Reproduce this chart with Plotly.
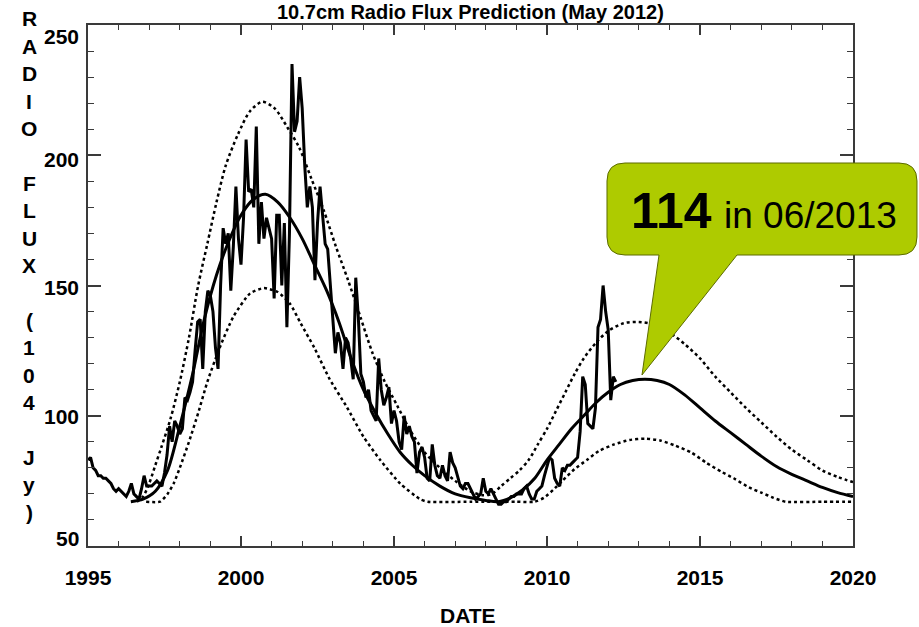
import plotly.graph_objects as go

# ---------------- data ----------------
obs_start_year = 1995
flux_1995 = [83, 84, 80, 79, 77, 77, 76, 76, 75, 74, 72, 71]
flux_1996 = [72, 71, 70, 69, 71, 74, 70, 69, 68, 72, 77, 73]
flux_1997 = [73, 73, 74, 75, 74, 73, 78, 85, 96, 90, 98, 96]
flux_1998 = [93, 95, 107, 106, 109, 113, 125, 136, 137, 118, 140, 148]
flux_1999 = [146, 140, 126, 118, 150, 172, 166, 170, 148, 165, 188, 168]
flux_2000 = [158, 176, 206, 186, 187, 180, 211, 166, 182, 168, 176, 172]
flux_2001 = [168, 145, 177, 177, 150, 174, 134, 170, 235, 209, 213, 230]
flux_2002 = [218, 196, 180, 188, 180, 152, 174, 188, 176, 166, 164, 150]
flux_2003 = [140, 124, 132, 128, 118, 130, 128, 122, 114, 153, 138, 116]
flux_2004 = [113, 107, 110, 102, 100, 98, 122, 110, 104, 107, 111, 97]
flux_2005 = [102, 98, 90, 87, 100, 93, 96, 92, 90, 78, 86, 88]
flux_2006 = [84, 76, 75, 89, 81, 77, 76, 81, 77, 75, 86, 82]
flux_2007 = [80, 76, 73, 72, 74, 74, 72, 70, 68, 69, 70, 76]
flux_2008 = [71, 70, 72, 70, 68, 66, 66, 67, 67, 68, 69, 69]
flux_2009 = [70, 70, 70, 72, 73, 70, 68, 68, 71, 72, 73, 77]
flux_2010 = [81, 84, 83, 76, 74, 73, 80, 79, 81, 81, 82, 83]
flux_2011 = [84, 94, 115, 112, 97, 96, 95, 103, 134, 137, 150, 140]
flux_2012 = [133, 106, 115, 113]

pred_year = [1996.4, 1996.8, 1997.2, 1997.6, 1998.0, 1998.4, 1998.8, 1999.2, 1999.6,
             2000.0, 2000.4, 2000.8, 2001.2, 2001.6, 2002.0, 2002.4, 2002.8, 2003.2,
             2003.6, 2004.0, 2004.4, 2004.8, 2005.2, 2005.6, 2006.0, 2006.5, 2007.0,
             2007.5, 2008.0, 2008.4, 2008.8, 2009.2, 2009.6, 2010.0, 2010.4, 2010.8,
             2011.2, 2011.6, 2012.0, 2012.4, 2012.8, 2013.2, 2013.6, 2014.0, 2014.5,
             2015.0, 2015.5, 2016.0, 2016.5, 2017.0, 2017.5, 2018.0, 2018.5, 2019.0,
             2019.5, 2020.0]
pred_flux = [67, 68, 71, 79, 96, 115, 137, 154, 167, 177, 183, 185, 182, 176, 168, 158,
             148, 136, 122, 110, 101, 93, 86, 81, 77, 73, 70, 68.5, 67.5, 67, 68.5, 71.5,
             76, 83, 89, 95, 100, 105, 109, 112, 113.5, 114, 113.5, 112, 108, 103, 98,
             93.5, 89, 84.5, 80.5, 77.5, 75, 72.5, 70.5, 69]

upper_year = [1996.6, 1996.8, 1997.0, 1997.2, 1997.4, 1997.7, 1998.0, 1998.3, 1998.6,
              1998.9, 1999.2, 1999.5, 1999.9, 2000.3, 2000.7, 2001.1, 2001.5, 2001.9,
              2002.3, 2002.7, 2003.1, 2003.5, 2003.9, 2004.3, 2004.7, 2005.1, 2005.5,
              2006.0, 2006.5, 2007.0, 2007.5, 2007.9, 2008.2, 2008.5, 2008.8, 2009.1,
              2009.4, 2009.7, 2010.0, 2010.3, 2010.6, 2010.9, 2011.2, 2011.6, 2012.0,
              2012.5, 2013.0, 2013.5, 2014.0, 2014.5, 2015.0, 2015.5, 2016.0, 2016.5,
              2017.0, 2017.5, 2018.0, 2018.5, 2019.0, 2019.5, 2020.0]
upper_flux = [67, 69, 74, 81, 88, 99, 113, 130, 150, 166, 182, 196, 208, 217, 220.5, 218,
              211, 203, 191, 179, 165, 152, 138, 124, 113, 104, 95, 86, 80, 75, 71, 69.5,
              70, 73, 76, 79, 83, 89, 95, 102, 109, 116, 122, 128, 132.5, 135.5, 136, 135,
              132, 127.5, 122, 115, 109, 103, 97.5, 92, 87, 83, 79, 76.5, 74.5]

lower_year = [1996.9, 1997.35, 1997.6, 1997.8, 1998.0, 1998.3, 1998.6, 1998.9, 1999.3,
              1999.75, 2000.3, 2000.75, 2001.2, 2001.6, 2001.95, 2002.4, 2002.9, 2003.45,
              2004.0, 2004.55, 2005.2, 2005.85, 2006.1, 2007.5, 2009.0, 2009.6, 2009.9,
              2010.2, 2010.5, 2010.9, 2011.3, 2011.7, 2012.2, 2012.7, 2013.2, 2013.7,
              2014.2, 2014.7, 2015.2, 2015.7, 2016.1, 2016.6, 2017.0, 2017.4, 2017.8,
              2019.0, 2020.0]
lower_flux = [67, 67, 70, 74, 80, 90, 101, 113, 126, 138, 147, 149, 147.5, 143, 135.5,
              126, 114, 103.5, 92, 83, 74, 68, 67, 67, 67, 67, 68.5, 71.5, 75, 79.5, 83,
              86.5, 89, 90.7, 91.2, 90.5, 88.5, 86, 82, 78.5, 76, 72.5, 70.5, 68.5, 67,
              67, 67]

x_tick_vals = [1995, 2000, 2005, 2010, 2015, 2020]
y_tick_vals = [50, 100, 150, 200, 250]
title_text = "10.7cm Radio Flux Prediction (May 2012)"
x_title = "DATE"
y_title_letters = ["R", "A", "D", "I", "O", "", "F", "L", "U", "X", "", "(", "1", "0", "4", "", "J", "y", ")"]
callout_value = "114"
callout_date = "in 06/2013"

# ---------------- build ----------------
yearly = [flux_1995, flux_1996, flux_1997, flux_1998, flux_1999, flux_2000, flux_2001,
          flux_2002, flux_2003, flux_2004, flux_2005, flux_2006, flux_2007, flux_2008,
          flux_2009, flux_2010, flux_2011, flux_2012]
obs_x, obs_y = [], []
for i, vals in enumerate(yearly):
    for m, v in enumerate(vals):
        obs_x.append(obs_start_year + i + m / 12.0)
        obs_y.append(v)

FONT = "Liberation Sans, Arial, Helvetica, sans-serif"
W, H = 919, 627
L, R, T, B = 88, 66, 25, 81
PW, PH = W - L - R, H - T - B


def px(xp):
    return (xp - L) / PW


def py(yp):
    return (H - B - yp) / PH


fig = go.Figure()
fig.add_trace(go.Scatter(x=upper_year, y=upper_flux, mode="lines",
                         line=dict(color="black", width=2.5, dash="dot", shape="spline", smoothing=0.8),
                         hoverinfo="skip"))
fig.add_trace(go.Scatter(x=lower_year, y=lower_flux, mode="lines",
                         line=dict(color="black", width=2.5, dash="dot", shape="spline", smoothing=0.6),
                         hoverinfo="skip"))
fig.add_trace(go.Scatter(x=pred_year, y=pred_flux, mode="lines",
                         line=dict(color="black", width=3, shape="spline", smoothing=0.8),
                         hoverinfo="skip"))
fig.add_trace(go.Scatter(x=obs_x, y=obs_y, mode="lines",
                         line=dict(color="black", width=3),
                         hoverinfo="skip"))

axis_color = "#3a3a3a"
fig.update_xaxes(range=[1995, 2020], tickvals=x_tick_vals, ticks="inside", ticklen=10,
                 tickwidth=1.5, tickcolor=axis_color, showline=True, linecolor=axis_color,
                 linewidth=1.5, mirror="ticks", showgrid=False, zeroline=False,
                 tickfont=dict(family=FONT, size=21, color="black", weight="bold"),
                 ticklabelstandoff=12,
                 minor=dict(dtick=1, ticks="inside", ticklen=5, tickcolor=axis_color, tickwidth=1.2))
fig.update_yaxes(range=[50, 250], tickvals=y_tick_vals, ticks="inside", ticklen=13,
                 tickwidth=1.5, tickcolor=axis_color, showline=True, linecolor=axis_color,
                 linewidth=1.5, mirror="ticks", showgrid=False, zeroline=False,
                 showticklabels=False,
                 minor=dict(dtick=10, ticks="inside", ticklen=6, tickcolor=axis_color, tickwidth=1.2))

annotations = []
# y tick labels, nudged inward like the original (IDL style)
y_label_shift = {250: -11, 200: -4, 150: -2, 100: -1, 50: 8}
for v in y_tick_vals:
    annotations.append(dict(text=str(v), x=0, xref="paper", y=v, yref="y",
                            xanchor="right", yanchor="middle", xshift=-7, yshift=y_label_shift[v],
                            showarrow=False,
                            font=dict(family=FONT, size=21, color="black", weight="bold")))

annotations.append(dict(text=title_text, x=px(470), y=py(12), xref="paper", yref="paper",
                        xanchor="center", yanchor="middle", showarrow=False,
                        font=dict(family=FONT, size=20, color="black", weight="bold")))
annotations.append(dict(text=x_title, x=px(468), y=py(615), xref="paper", yref="paper",
                        xanchor="center", yanchor="middle", showarrow=False,
                        font=dict(family=FONT, size=21, color="black", weight="bold")))
for i, ch in enumerate(y_title_letters):
    if ch:
        annotations.append(dict(text=ch, x=px(29), y=py(19 + i * 27.4), xref="paper", yref="paper",
                                xanchor="center", yanchor="middle", showarrow=False,
                                font=dict(family=FONT, size=21, color="black", weight="bold")))

# callout bubble
bl, br, bt, bb, rr = 607, 917, 163, 255, 18
tail_a, tail_b, tip_x, tip_y = 737, 659, 642, 375


def P(xp, yp):
    return f"{px(xp):.5f},{py(yp):.5f}"


path = (f"M {P(bl + rr, bt)} L {P(br - rr, bt)} Q {P(br, bt)} {P(br, bt + rr)} "
        f"L {P(br, bb - rr)} Q {P(br, bb)} {P(br - rr, bb)} L {P(tail_a, bb)} "
        f"L {P(tip_x, tip_y)} L {P(tail_b, bb)} L {P(bl + rr, bb)} Q {P(bl, bb)} {P(bl, bb - rr)} "
        f"L {P(bl, bt + rr)} Q {P(bl, bt)} {P(bl + rr, bt)} Z")
fig.add_shape(type="path", path=path, xref="paper", yref="paper",
              fillcolor="#aecb00", line=dict(color="#5c6b00", width=1), layer="above")

annotations.append(dict(text=callout_value, x=px(714), y=py(228 - 0.3465 * 50), xref="paper", yref="paper",
                        xanchor="right", yanchor="middle", showarrow=False,
                        font=dict(family=FONT, size=50, color="black", weight="bold")))
annotations.append(dict(text=callout_date, x=px(722), y=py(228 - 0.3465 * 37), xref="paper", yref="paper",
                        xanchor="left", yanchor="middle", showarrow=False,
                        font=dict(family=FONT, size=37, color="black")))

fig.update_layout(width=W, height=H, margin=dict(l=L, r=R, t=T, b=B, pad=0),
                  paper_bgcolor="white", plot_bgcolor="white", showlegend=False,
                  annotations=annotations)

fig.write_html("out.html")
